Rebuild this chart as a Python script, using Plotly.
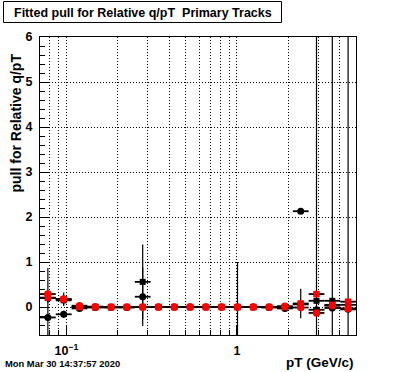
import numpy as np
import plotly.graph_objects as go

# pT bin edges (GeV/c), 20 log bins
pt_edges = [0.0700, 0.0866, 0.1073, 0.1328, 0.1644, 0.2034, 0.2519, 0.3119,
            0.3860, 0.4778, 0.5917, 0.7322, 0.9066, 1.1223, 1.3894, 1.7200,
            2.1293, 2.6361, 3.2631, 4.0396, 5.0000]

# series 1 (black circles)
black_circle = [-0.23, -0.16, -0.03, -0.01, -0.01, -0.01, 0.23, 0.00, 0.00, 0.00,
                0.00, 0.00, 0.00, 0.00, -0.01, -0.03, 2.13, -0.06, -0.02, -0.05]
black_circle_err = [1.10, 0.08, 0.03, 0.02, 0.02, 0.02, 0.65, 0.02, 0.02, 0.02,
                    0.02, 0.02, 1.00, 0.02, 0.02, 0.03, 0.05, 20.0, 20.0, 20.0]
# series 2 (black squares)
black_square = [0.20, 0.15, 0.00, 0.00, 0.00, 0.00, 0.56, 0.00, 0.00, 0.00,
                0.00, 0.00, 0.00, 0.00, 0.00, 0.00, 0.06, 0.14, 0.14, 0.05]
black_square_err = [0.10, 0.10, 0.02, 0.02, 0.02, 0.02, 0.83, 0.02, 0.02, 0.02,
                    0.02, 0.02, 0.02, 0.02, 0.02, 0.02, 0.05, 0.05, 0.05, 0.05]
# series 3 (red squares)
red_square = [0.21, 0.175, 0.00, 0.00, 0.00, 0.00, 0.00, 0.00, 0.00, 0.00,
              0.00, 0.00, 0.00, 0.00, 0.00, 0.00, 0.08, 0.29, 0.05, 0.12]
red_square_err = [0.10, 0.15, 0.02, 0.02, 0.02, 0.02, 0.02, 0.02, 0.02, 0.02,
                  0.02, 0.02, 0.02, 0.02, 0.02, 0.02, 0.33, 0.05, 0.05, 0.05]
# series 4 (red circles)
red_circle = [0.29, 0.18, 0.03, 0.01, 0.00, 0.00, 0.00, 0.00, 0.00, 0.00,
              0.00, 0.00, 0.00, 0.00, 0.00, 0.02, -0.01, -0.13, 0.03, -0.03]
red_circle_err = [0.05, 0.05, 0.02, 0.02, 0.02, 0.02, 0.02, 0.02, 0.02, 0.02,
                  0.02, 0.02, 0.02, 0.02, 0.02, 0.02, 0.02, 0.05, 0.05, 0.05]

x_tickvals = [0.1, 1]
x_ticktext = ["10<sup>\u22121</sup>", "1"]
x_minor_ticks = [0.08, 0.09, 0.2, 0.3, 0.4, 0.5, 0.6, 0.7, 0.8, 0.9, 2, 3, 4, 5]

edges = np.array(pt_edges)
lo, hi = edges[:-1], edges[1:]
xc = np.sqrt(lo * hi)
ex_plus = hi - xc
ex_minus = xc - lo

FONT = "Liberation Sans, Arial, sans-serif"
DOT = "1px,2px"

fig = go.Figure()

def add(y, err, color, symbol, size):
    fig.add_trace(go.Scatter(
        x=xc, y=y, mode="markers",
        marker=dict(color=color, symbol=symbol, size=size, line=dict(width=0)),
        error_x=dict(type="data", symmetric=False, array=ex_plus, arrayminus=ex_minus,
                     color="black", thickness=1.8, width=0),
        error_y=dict(type="data", array=err, color="black", thickness=1.2, width=0),
        cliponaxis=True,
    ))

add(black_circle, black_circle_err, "black", "circle", 7)
add(black_square, black_square_err, "black", "square", 6)
add(red_square, red_square_err, "#ff0000", "square", 6.5)
add(red_circle, red_circle_err, "#ff0000", "circle", 7.5)

fig.update_layout(
    width=396, height=372,
    margin=dict(l=40, r=40, t=37, b=37),
    plot_bgcolor="white", paper_bgcolor="white",
    showlegend=False,
    font=dict(family=FONT, color="black"),
)

fig.update_xaxes(
    type="log", range=[np.log10(pt_edges[0]), np.log10(pt_edges[-1])],
    tickmode="array", tickvals=x_tickvals, ticktext=x_ticktext,
    ticks="inside", ticklen=9, tickwidth=1, tickcolor="black",
    tickfont=dict(size=12.5, weight="bold", family=FONT),
    ticklabelstandoff=4,
    showline=True, linecolor="black", linewidth=1, mirror=True,
    showgrid=True, gridcolor="black", gridwidth=1, griddash=DOT,
    zeroline=False,
    minor=dict(tickmode="array", tickvals=x_minor_ticks, ticks="inside", ticklen=5,
               tickcolor="black", tickwidth=1, showgrid=True, gridcolor="black",
               gridwidth=1, griddash=DOT),
)

fig.update_yaxes(
    range=[-0.62, 6], tick0=0, dtick=1,
    ticks="inside", ticklen=9, tickwidth=1, tickcolor="black",
    tickfont=dict(size=12.5, weight="bold", family=FONT),
    ticklabelstandoff=4,
    showline=True, linecolor="black", linewidth=1, mirror=True,
    showgrid=True, gridcolor="black", gridwidth=1, griddash=DOT,
    zeroline=False,
    minor=dict(tick0=0, dtick=0.2, ticks="inside", ticklen=5, tickcolor="black",
               tickwidth=1, showgrid=False),
)

def px_x(p):
    return (p - 40) / 316.0

def px_y(p):
    return (335 - p) / 298.0

fig.add_shape(type="rect", xref="paper", yref="paper",
              x0=px_x(3.5), x1=px_x(281.5), y0=px_y(22.5), y1=px_y(1.5),
              line=dict(color="black", width=1), fillcolor="white", layer="above")

fig.add_annotation(xref="paper", yref="paper", x=px_x(12), y=px_y(12.5),
                   xanchor="left", yanchor="middle", showarrow=False,
                   text="<b>Fitted pull for Relative q/pT \u00a0Primary Tracks</b>",
                   font=dict(size=12.5, family=FONT, color="black"))

fig.add_annotation(xref="paper", yref="paper", x=px_x(15.5), y=px_y(123),
                   xanchor="center", yanchor="middle", showarrow=False, textangle=-90,
                   text="<b>pull for Relative q/pT</b>",
                   font=dict(size=14, family=FONT, color="black"))

fig.add_annotation(xref="paper", yref="paper", x=px_x(356), y=px_y(362),
                   xanchor="right", yanchor="middle", showarrow=False,
                   text="<b>pT (GeV/c)</b>",
                   font=dict(size=13.5, family=FONT, color="black"))

fig.add_annotation(xref="paper", yref="paper", x=px_x(2.5), y=px_y(363.5),
                   xanchor="left", yanchor="middle", showarrow=False,
                   text="<b>Mon Mar 30 14:37:57 2020</b>",
                   font=dict(size=9.4, family=FONT, color="black"))

fig.write_html("out.html", config={"displayModeBar": False},
               post_script="document.body.style.margin='0';document.body.style.padding='0';")
